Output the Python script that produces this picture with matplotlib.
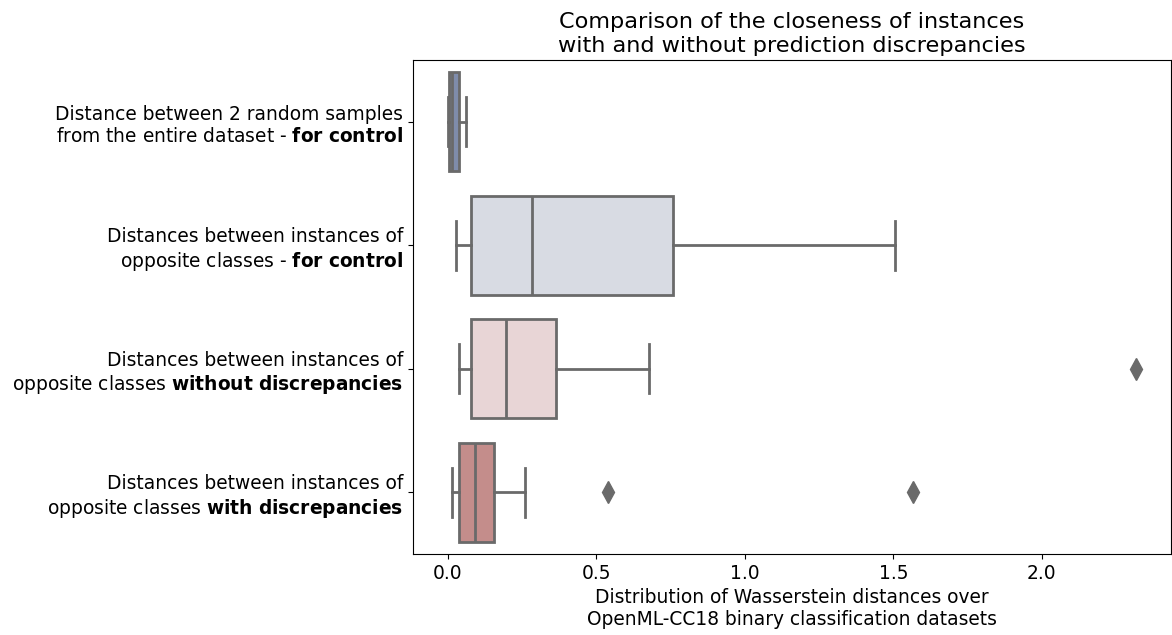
import matplotlib
matplotlib.use('Agg')
import matplotlib.pyplot as plt

# Категории и статистика боксплотов
labels = [
    'Distance between 2 random samples\nfrom the entire dataset - $\\bf{for\\ control}$',
    'Distances between instances of\nopposite classes - $\\bf{for\\ control}$',
    'Distances between instances of\nopposite classes $\\bf{without\\ discrepancies}$',
    'Distances between instances of\nopposite classes $\\bf{with\\ discrepancies}$',
]
whislo = [0.001, 0.028, 0.038, 0.013]
q1 = [0.003, 0.076, 0.079, 0.038]
med = [0.015, 0.284, 0.196, 0.090]
q3 = [0.038, 0.758, 0.364, 0.155]
whishi = [0.060, 1.506, 0.677, 0.260]
fliers = [[], [], [2.317], [0.539, 1.568]]
colors = ['#7f8cab', '#d8dbe3', '#e8d5d6', '#c48d8b']

plt.rcParams['font.family'] = 'DejaVu Sans'
plt.rcParams['font.size'] = 13.4

stats = []
for i in range(len(labels)):
    stats.append(dict(whislo=whislo[i], q1=q1[i], med=med[i], q3=q3[i],
                      whishi=whishi[i], fliers=fliers[i], label=labels[i]))

fig = plt.figure(figsize=(11.72, 6.35), dpi=100)
ax = fig.add_axes([0.3524, 0.1276, 0.6466, 0.7779])

edge = '#6a6a6a'
bp = ax.bxp(stats, positions=range(len(labels)), widths=0.8, vert=False,
            patch_artist=True,
            boxprops=dict(edgecolor=edge, linewidth=2),
            medianprops=dict(color=edge, linewidth=2),
            whiskerprops=dict(color=edge, linewidth=2),
            capprops=dict(color=edge, linewidth=2),
            flierprops=dict(marker='d', markerfacecolor=edge, markeredgecolor=edge,
                            markersize=11, linestyle='none'))
for patch, c in zip(bp['boxes'], colors):
    patch.set_facecolor(c)

ax.set_ylim(3.5, -0.5)
ax.set_xlim(-0.118, 2.435)
ax.set_xticks([0.0, 0.5, 1.0, 1.5, 2.0])
ax.set_title('Comparison of the closeness of instances\nwith and without prediction discrepancies')
ax.set_xlabel('Distribution of Wasserstein distances over\nOpenML-CC18 binary classification datasets')

fig.savefig('out.png', dpi=100)
